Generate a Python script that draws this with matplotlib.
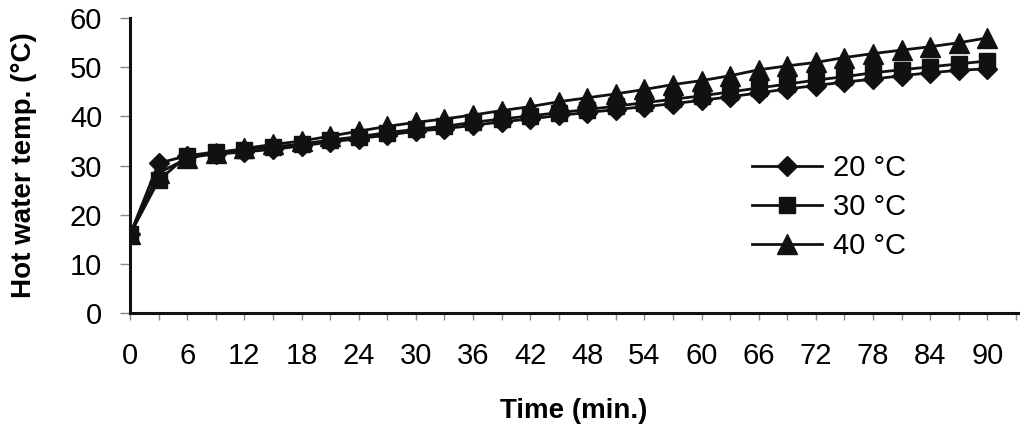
import matplotlib
matplotlib.use("Agg")
import matplotlib.pyplot as plt
from matplotlib.ticker import MultipleLocator

plt.rcParams['font.family'] = ['Liberation Sans', 'DejaVu Sans']

# time in minutes
time = [0, 3, 6, 9, 12, 15, 18, 21, 24, 27, 30, 33, 36, 39, 42, 45,
        48, 51, 54, 57, 60, 63, 66, 69, 72, 75, 78, 81, 84, 87, 90]

# hot water temperature for each inlet temperature
temp_20 = [16, 30.5, 32, 32.3, 32.8, 33.3, 34, 34.8, 35.5, 36.2, 37, 37.5,
           38.2, 38.9, 39.5, 40.2, 40.8, 41.4, 42, 42.6, 43.3, 44, 44.8,
           45.6, 46.3, 47, 47.6, 48.3, 48.9, 49.4, 49.7]
temp_30 = [16, 27, 32, 32.8, 33.2, 33.8, 34.4, 35.2, 35.9, 36.7, 37.4, 38,
           38.8, 39.5, 40.1, 40.8, 41.4, 42.1, 42.8, 43.5, 44.2, 45, 45.8,
           46.6, 47.4, 48.1, 48.9, 49.5, 50.1, 50.7, 51.3]
temp_40 = [16, 28.5, 31.5, 32.5, 33.5, 34.3, 35, 36, 37, 38, 38.8, 39.5,
           40.3, 41.2, 42, 43, 43.8, 44.6, 45.5, 46.5, 47.3, 48.3, 49.5,
           50.3, 51, 52, 52.8, 53.5, 54.2, 55, 56]

labels = ['20 °C', '30 °C', '40 °C']

fig = plt.figure(figsize=(10.24, 4.33), dpi=100)
ax = fig.add_axes([0.127, 0.277, 0.867, 0.681])

col = '#111111'
ax.plot(time, temp_20, color=col, lw=2, marker='D', ms=10, label=labels[0])
ax.plot(time, temp_30, color=col, lw=2, marker='s', ms=11, label=labels[1])
ax.plot(time, temp_40, color=col, lw=2, marker='^', ms=14, label=labels[2])

ax.set_xlim(0, 93.2)
ax.set_ylim(0, 60)
ax.xaxis.set_major_locator(MultipleLocator(6))
ax.xaxis.set_minor_locator(MultipleLocator(3))
ax.yaxis.set_major_locator(MultipleLocator(10))

for s in ['top', 'right']:
    ax.spines[s].set_visible(False)
for s in ['left', 'bottom']:
    ax.spines[s].set_linewidth(2.2)
    ax.spines[s].set_color(col)

ax.tick_params(axis='y', which='major', length=7, width=1, color='#888888',
               labelsize=21, pad=13)
ax.tick_params(axis='x', which='both', length=5, width=1, color='#888888',
               labelsize=21, pad=16)
ax.tick_params(axis='x', which='minor', labelbottom=False)

ax.set_xlabel('Time (min.)', fontsize=20, fontweight='bold', labelpad=20)
ax.set_ylabel('Hot water temp. (°C)', fontsize=20, fontweight='bold', labelpad=24)

ax.legend(loc='upper left', bbox_to_anchor=(0.70, 0.54), frameon=False,
          fontsize=21, borderpad=0, borderaxespad=0, handlelength=2.4,
          handletextpad=0.4, labelspacing=0.38)

fig.savefig('out.png', dpi=100)
